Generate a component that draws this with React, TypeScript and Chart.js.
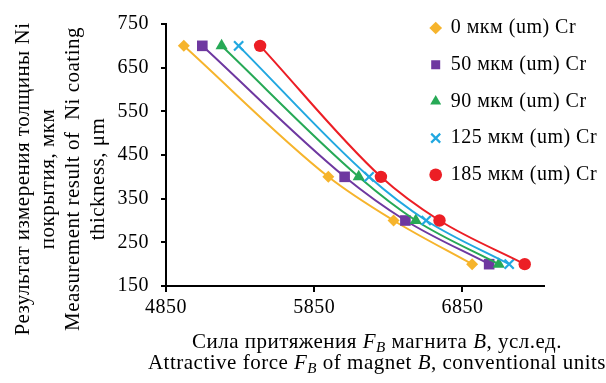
import React, { useEffect, useRef } from 'react';
import { Chart, registerables } from 'chart.js';

Chart.register(...registerables);

// Measured coating thickness levels (y), μm
const thicknessLevels = [700, 400, 300, 200];

// Attractive force F_B for each Cr sublayer thickness (x), conventional units
const force0 = [4970, 5945, 6385, 6915];
const force50 = [5095, 6055, 6465, 7030];
const force90 = [5225, 6150, 6535, 7095];
const force125 = [5340, 6220, 6605, 7165];
const force185 = [5485, 6300, 6695, 7270];

const seriesLabels = ['0 мкм (um) Cr', '50 мкм (um) Cr', '90 мкм (um) Cr', '125 мкм (um) Cr', '185 мкм (um) Cr'];
const seriesForces = [force0, force50, force90, force125, force185];

const xTickValues = [4850, 5850, 6850];
const yTickValues = [150, 250, 350, 450, 550, 650, 750];

const colors = ['#F6B42C', '#6E38A0', '#27A956', '#22A8E0', '#EC1E25'];
const pointStyles = ['rectRot', 'rect', 'triangle', 'crossRot', 'circle'];
const pointRadii = [6, 7.5, 7, 6.5, 6.2];

const FONT = "'Liberation Serif', 'Times New Roman', serif";

const legendPlacer = {
  id: 'legendPlacer',
  afterLayout(chart: any) {
    const lg = chart.legend;
    if (!lg) return;
    const w = lg.width;
    const h = lg.height;
    lg.left = 414;
    lg.top = 1.3;
    lg.right = 414 + w;
    lg.bottom = 1.3 + h;
  },
  beforeDraw(chart: any) {
    try {
      (chart.ctx as any).letterSpacing = '0.5px';
    } catch (e) {
      /* ignore */
    }
  },
};

export default function App() {
  const canvasRef = useRef<HTMLCanvasElement | null>(null);

  useEffect(() => {
    if (!canvasRef.current) return;
    const datasets = seriesForces.map((forces, i) => ({
      label: seriesLabels[i],
      data: forces.map((f, j) => ({ x: f, y: thicknessLevels[j] })),
      showLine: true,
      cubicInterpolationMode: 'monotone',
      borderColor: colors[i],
      backgroundColor: colors[i],
      borderWidth: 2,
      pointStyle: pointStyles[i],
      pointRadius: pointRadii[i],
      pointHoverRadius: pointRadii[i],
      pointBorderWidth: pointStyles[i] === 'crossRot' ? 2.2 : 0,
      pointBorderColor: colors[i],
      pointBackgroundColor: colors[i],
      order: 5 - i,
    }));

    const chart = new Chart(canvasRef.current, {
      type: 'scatter',
      data: { datasets },
      plugins: [legendPlacer],
      options: {
        animation: false,
        responsive: false,
        maintainAspectRatio: false,
        devicePixelRatio: 1,
        layout: { padding: { top: 19, right: 62, left: 0, bottom: 0 } },
        plugins: {
          tooltip: { enabled: false },
          legend: {
            display: true,
            position: 'chartArea' as any,
            align: 'start',
            labels: {
              usePointStyle: true,
              boxWidth: 10,
              boxHeight: 9,
              padding: 16.7,
              color: '#000',
              font: { family: FONT, size: 20, lineHeight: 1 },
              sort: (a: any, b: any) => a.datasetIndex - b.datasetIndex,
            },
          },
        },
        scales: {
          x: {
            type: 'linear',
            min: 4850,
            max: 7400,
            afterBuildTicks: (s: any) => {
              s.ticks = xTickValues.map((v) => ({ value: v }));
            },
            afterFit: (s: any) => {
              s.height = 97;
            },
            grid: {
              display: true,
              drawOnChartArea: false,
              drawTicks: true,
              tickLength: 6,
              color: '#000',
              lineWidth: 2,
            },
            border: { display: true, color: '#000', width: 2 },
            ticks: {
              color: '#000',
              font: { family: FONT, size: 20 },
              padding: 4,
              maxRotation: 0,
              autoSkip: false,
              callback: (v: any) => String(v),
            },
          },
          y: {
            type: 'linear',
            min: 150,
            max: 750,
            afterBuildTicks: (s: any) => {
              s.ticks = yTickValues.map((v) => ({ value: v }));
            },
            afterFit: (s: any) => {
              s.width = 166;
            },
            grid: {
              display: true,
              drawOnChartArea: false,
              drawTicks: true,
              tickLength: 5,
              color: '#000',
              lineWidth: 2,
            },
            border: { display: true, color: '#000', width: 2 },
            ticks: {
              color: '#000',
              font: { family: FONT, size: 20 },
              padding: 12,
              autoSkip: false,
              callback: (v: any) => String(v),
            },
          },
        },
      },
    } as any);
    return () => chart.destroy();
  }, []);

  const sub: React.CSSProperties = { fontSize: '0.72em', position: 'relative', top: '0.28em', lineHeight: 0 };

  return (
    <div style={{ position: 'fixed', left: 0, top: 0, width: 606, height: 383, background: '#fff', overflow: 'hidden' }}>
      <canvas ref={canvasRef} width={606} height={383} style={{ position: 'absolute', left: 0, top: 0, width: 606, height: 383 }} />
      <div
        style={{
          position: 'absolute',
          left: 59.5 - 190,
          top: 179 - 50,
          width: 380,
          height: 100,
          transform: 'rotate(-90deg)',
          transformOrigin: '50% 50%',
          fontFamily: FONT,
          fontSize: 21,
          letterSpacing: '0.5px',
          lineHeight: '25px',
          textAlign: 'center',
          whiteSpace: 'nowrap',
          color: '#000',
        }}
      >
        Результат измерения толщины Ni
        <br />
        покрытия, мкм
        <br />
        Measurement result of&nbsp; Ni coating
        <br />
        thickness, μm
      </div>
      <div
        style={{
          position: 'absolute',
          left: 377 - 240,
          top: 331,
          width: 480,
          fontFamily: FONT,
          fontSize: 21,
          letterSpacing: '0.5px',
          lineHeight: '21px',
          textAlign: 'center',
          whiteSpace: 'nowrap',
          color: '#000',
        }}
      >
        Сила притяжения <i>F</i>
        <span style={sub}>
          <i>B</i>
        </span>{' '}
        магнита <i>B</i>, усл.ед.
        <br />
        Attractive force <i>F</i>
        <span style={sub}>
          <i>B</i>
        </span>{' '}
        of magnet <i>B</i>, conventional units
      </div>
    </div>
  );
}
